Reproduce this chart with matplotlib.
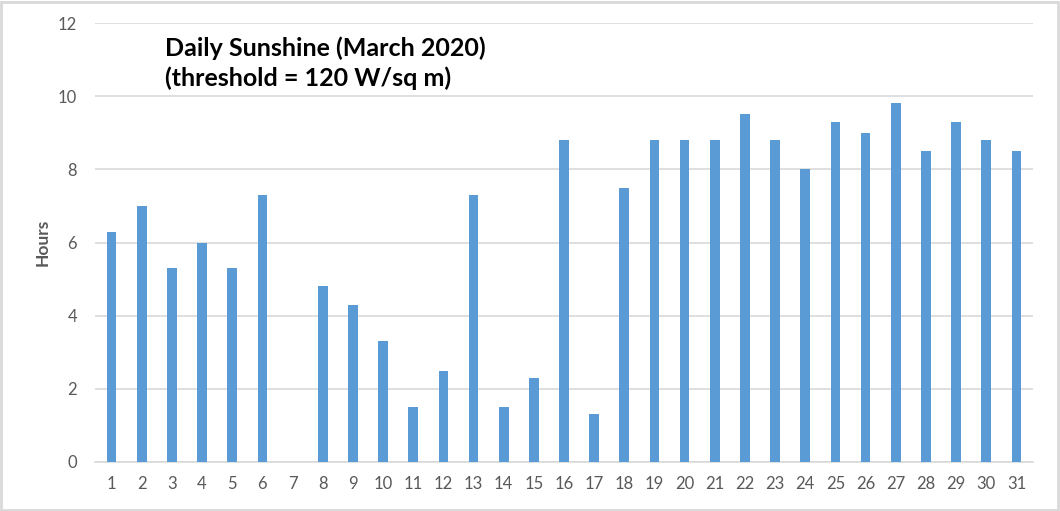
import numpy as np
import matplotlib.pyplot as plt
from matplotlib.patches import Rectangle

days = list(range(1, 32))
hours = [6.3, 7.0, 5.3, 6.0, 5.3, 7.3, 0.0, 4.8, 4.3, 3.3, 1.5, 2.5, 7.3, 1.5, 2.3, 8.8,
         1.3, 7.5, 8.8, 8.8, 8.8, 9.5, 8.8, 8.0, 9.3, 9.0, 9.8, 8.5, 9.3, 8.8, 8.5]
y_ticks = [0, 2, 4, 6, 8, 10, 12]

plt.rcParams['font.family'] = ['Lato', 'DejaVu Sans']

fig = plt.figure(figsize=(10.6, 5.11), dpi=100)
ax = fig.add_axes([95 / 1060, 1 - 462 / 511, (1033 - 95) / 1060, (462 - 23) / 511])

ax.bar(days, hours, width=0.32, color='#5b9bd5', zorder=3)

ax.set_xlim(0.45, 31.55)
ax.set_ylim(0, 12)
ax.set_yticks(y_ticks)
ax.set_xticks(days)
ax.tick_params(axis='both', length=0, labelsize=12, colors='#595959')
ax.tick_params(axis='x', pad=10)
ax.tick_params(axis='y', pad=13)
ax.yaxis.grid(True, color='#d9d9d9', linewidth=1.2, zorder=0)
for s in ['top', 'right', 'left']:
    ax.spines[s].set_visible(False)
ax.spines['bottom'].set_color('#d9d9d9')
ax.spines['bottom'].set_linewidth(1.2)

ax.set_ylabel('Hours', fontsize=12.5, fontweight='bold', color='#595959', labelpad=5)

fig.text(165 / 1060, 1 - 63 / 511, 'Daily Sunshine (March 2020)\n(threshold = 120 W/sq m)',
         fontsize=18, fontweight='bold', color='black', ha='left', va='center',
         linespacing=1.35)

fig.patches.append(Rectangle((0.001, 0.002), 0.997, 0.995, transform=fig.transFigure,
                             fill=False, edgecolor='#d9d9d9', linewidth=2))

fig.savefig('out.png', dpi=100)
